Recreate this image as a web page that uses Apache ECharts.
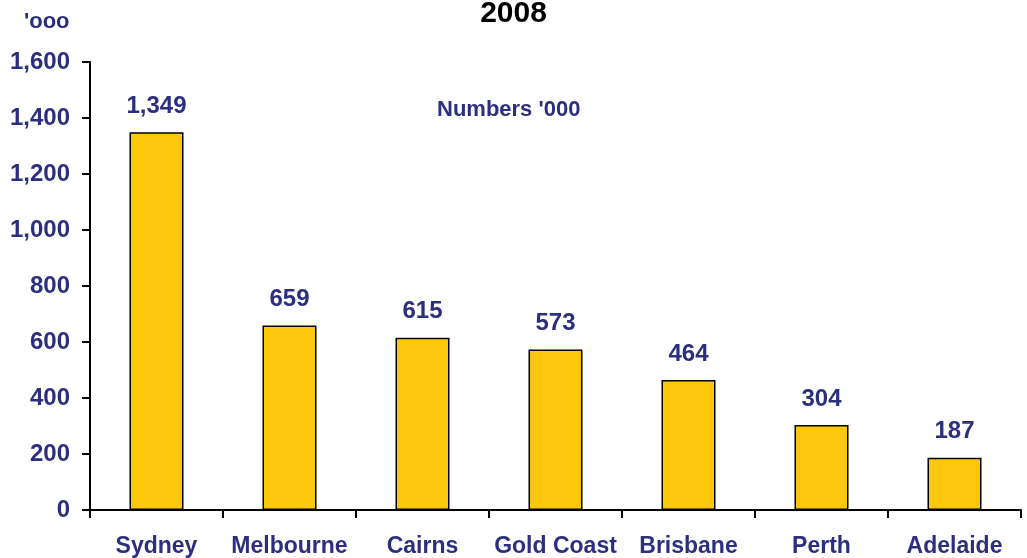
<!DOCTYPE html>
<html>
<head>
<meta charset="utf-8">
<script src="https://cdn.jsdelivr.net/npm/echarts@6/dist/echarts.min.js"></script>
<style>
  html, body { margin: 0; padding: 0; background: #fff; }
  #chart { width: 1027px; height: 558px; }
</style>
</head>
<body>
<div id="chart"></div>
<script>
var cities = ['Sydney', 'Melbourne', 'Cairns', 'Gold Coast', 'Brisbane', 'Perth', 'Adelaide'];
var visitors = [1349, 659, 615, 573, 464, 304, 187];
var navy = '#2b2f7e';
var font = 'Liberation Sans, Arial, sans-serif';

var chart = echarts.init(document.getElementById('chart'));
chart.setOption({
    animation: false,
    textStyle: { fontFamily: font },
    title: [
        { text: '2008', left: 'center', top: -6,
          textStyle: { fontSize: 30, fontWeight: 'bold', color: '#000' } },
        { text: "'ooo", left: 19, top: 6,
          textStyle: { fontSize: 22, fontWeight: 'bold', color: navy } },
        { text: "Numbers '000", left: 432, top: 94,
          textStyle: { fontSize: 22, fontWeight: 'bold', color: navy } }
    ],
    grid: { left: 90, right: 6, top: 62, bottom: 48, containLabel: false },
    xAxis: {
        type: 'category',
        data: cities,
        axisLine: { lineStyle: { color: '#000', width: 2 } },
        axisTick: { show: true, length: 8, alignWithLabel: false, lineStyle: { color: '#000', width: 2 } },
        axisLabel: { color: navy, fontSize: 23, fontWeight: 'bold', margin: 25, interval: 0 }
    },
    yAxis: {
        type: 'value',
        min: 0, max: 1600, interval: 200,
        splitLine: { show: false },
        axisLine: { show: true, lineStyle: { color: '#000', width: 2 } },
        axisTick: { show: true, length: 8, lineStyle: { color: '#000', width: 2 } },
        axisLabel: {
            color: navy, fontSize: 24, fontWeight: 'bold', margin: 20,
            formatter: function (v) { return v.toLocaleString('en-US'); }
        }
    },
    series: [{
        type: 'bar',
        data: visitors,
        barWidth: 54,
        itemStyle: { color: '#fdc70c', borderColor: '#000', borderWidth: 1.5 },
        label: {
            show: true, position: 'top', distance: 14,
            color: navy, fontSize: 24, fontWeight: 'bold',
            formatter: function (p) { return p.value.toLocaleString('en-US'); }
        }
    }]
});
</script>
</body>
</html>
